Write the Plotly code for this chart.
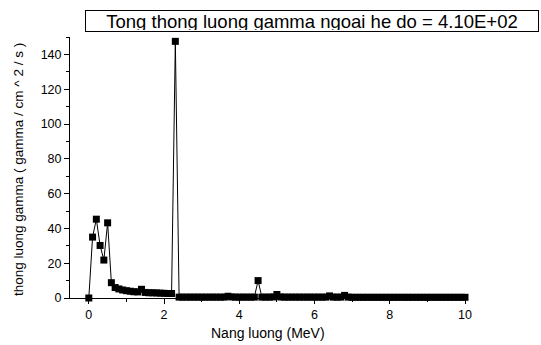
import plotly.graph_objects as go

energy = [round(0.1 * i, 1) for i in range(101)]

flux = [
    0, 35, 45.3, 30.2, 21.8, 43.2, 8.8, 6.0, 5.2, 4.6,
    4.2, 3.9, 3.6, 3.5, 5.0, 3.2, 3.0, 3.0, 2.9, 2.8,
    2.7, 2.6, 2.6, 147.5, 0.5, 0.5, 0.5, 0.5, 0.5, 0.5,
    0.5, 0.5, 0.5, 0.5, 0.5, 0.5, 0.5, 1.0, 0.6, 0.5,
    0.5, 0.5, 0.5, 0.5, 0.5, 10.0, 0.5, 0.5, 0.5, 0.6,
    2.0, 0.6, 0.5, 0.5, 0.5, 0.5, 0.5, 0.5, 0.5, 0.5,
    0.5, 0.5, 0.5, 0.5, 1.2, 0.5, 0.5, 0.5, 1.5, 0.5,
    0.4, 0.4, 0.4, 0.4, 0.4, 0.4, 0.4, 0.4, 0.4, 0.4,
    0.4, 0.4, 0.4, 0.4, 0.4, 0.4, 0.4, 0.4, 0.4, 0.4,
    0.4, 0.4, 0.4, 0.4, 0.4, 0.4, 0.4, 0.4, 0.4, 0.4,
    0.4,
]

x_ticks = [0, 2, 4, 6, 8, 10]
y_ticks = [0, 20, 40, 60, 80, 100, 120, 140]

title_text = "Tong thong luong gamma ngoai he do = 4.10E+02"
x_title = "Nang luong (MeV)"
y_title = "thong luong gamma ( gamma / cm ^ 2 / s )"

fig = go.Figure()
fig.add_trace(go.Scatter(
    x=energy, y=flux, mode="lines+markers",
    line=dict(color="black", width=1),
    marker=dict(symbol="square", size=7, color="black"),
    cliponaxis=False, showlegend=False,
))

axis_common = dict(
    showgrid=False, zeroline=False, showline=True, linecolor="black", linewidth=1,
    ticks="outside", ticklen=5, tickcolor="black", tickwidth=1,
    tickfont=dict(family="Arial, Liberation Sans", size=12.5, color="black"),
)

fig.update_xaxes(range=[-0.5, 10], tickvals=x_ticks,
                 minor=dict(ticks="outside", ticklen=3, dtick=1, tickcolor="black", showgrid=False),
                 **axis_common)
fig.update_yaxes(range=[0, 150], tickvals=y_ticks,
                 minor=dict(ticks="outside", ticklen=3, dtick=10, tickcolor="black", showgrid=False),
                 **axis_common)

fig.add_annotation(
    text=title_text, xref="paper", yref="paper", x=(312 - 70) / 395, y=(298 - 21.5) / 261,
    xanchor="center", yanchor="middle", showarrow=False,
    font=dict(family="Arial, Liberation Sans", size=18.5, color="black"),
    bordercolor="black", borderwidth=1, borderpad=1, width=450, height=18, bgcolor="white",
)
fig.add_annotation(
    text=x_title, xref="paper", yref="paper", x=(268 - 70) / 395, y=(298 - 333) / 261,
    xanchor="center", yanchor="middle", showarrow=False,
    font=dict(family="Arial, Liberation Sans", size=14, color="black"),
)
fig.add_annotation(
    text=y_title, xref="paper", yref="paper", x=(18 - 70) / 395, y=(298 - 170) / 261,
    xanchor="center", yanchor="middle", showarrow=False, textangle=-90,
    font=dict(family="Arial, Liberation Sans", size=13.5, color="black"),
)

fig.update_layout(
    width=541, height=345,
    margin=dict(l=70, r=76, t=37, b=47),
    plot_bgcolor="white", paper_bgcolor="white",
)

fig.write_html("out.html")
